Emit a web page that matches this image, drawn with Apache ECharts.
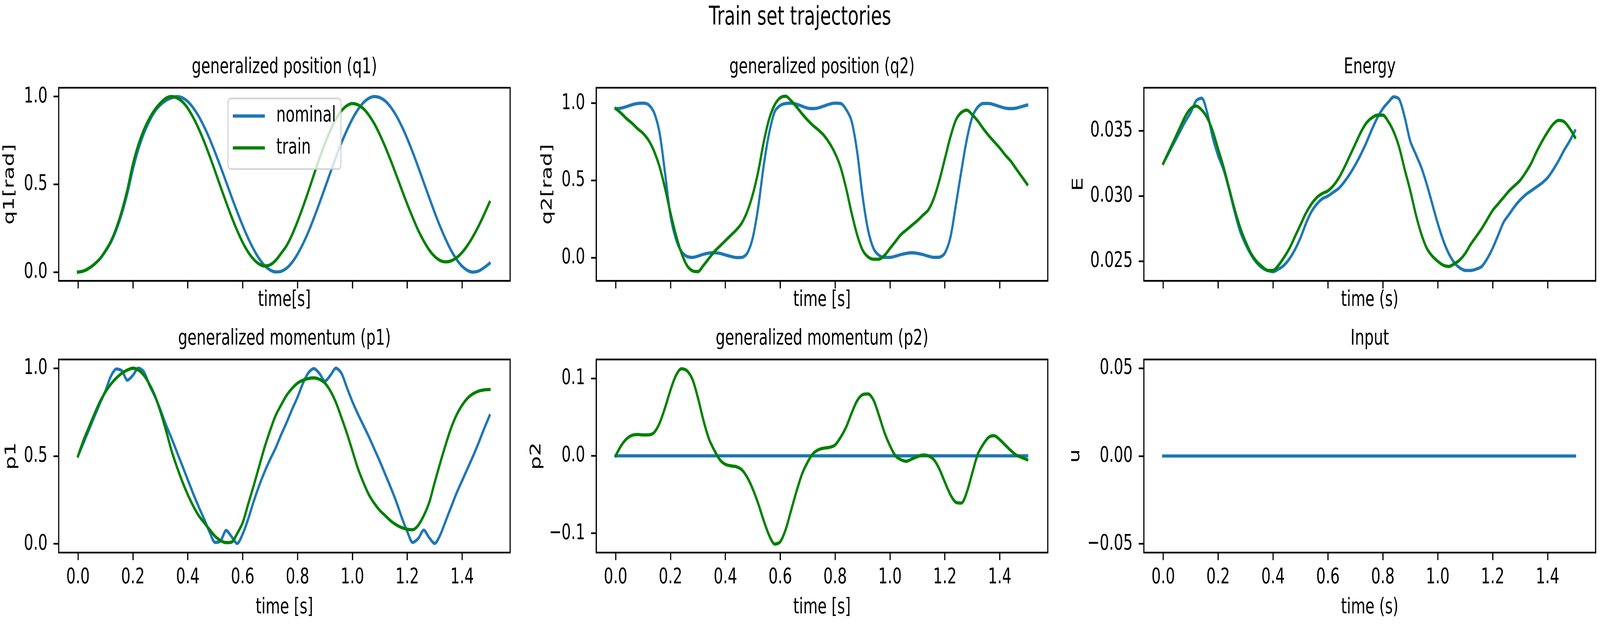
<!DOCTYPE html>
<html>
<head>
<meta charset="utf-8">
<script src="https://cdn.jsdelivr.net/npm/echarts@6/dist/echarts.min.js"></script>
<style>
html,body{margin:0;padding:0;background:#fff;overflow:hidden}
#c{width:6000px;height:1600px;transform-origin:0 0;position:absolute;left:0;top:0}
</style>
</head>
<body>
<div id="c"></div>
<script>
// ---------------- data ----------------
const time = [
  0.00,0.02,0.04,0.06,0.08,0.10,0.12,0.14,0.16,0.18,
  0.20,0.22,0.24,0.26,0.28,0.30,0.32,0.34,0.36,0.38,
  0.40,0.42,0.44,0.46,0.48,0.50,0.52,0.54,0.56,0.58,
  0.60,0.62,0.64,0.66,0.68,0.70,0.72,0.74,0.76,0.78,
  0.80,0.82,0.84,0.86,0.88,0.90,0.92,0.94,0.96,0.98,
  1.00,1.02,1.04,1.06,1.08,1.10,1.12,1.14,1.16,1.18,
  1.20,1.22,1.24,1.26,1.28,1.30,1.32,1.34,1.36,1.38,
  1.40,1.42,1.44,1.46,1.48,1.50
];
const q1Nominal = [
  0,0.006,0.022,0.045,0.075,0.118,0.17,0.243,0.335,0.45,
  0.585,0.70,0.79,0.86,0.915,0.952,0.977,0.992,1.0,0.993,
  0.971,0.935,0.887,0.827,0.758,0.680,0.598,0.513,0.427,0.344,
  0.265,0.193,0.130,0.077,0.037,0.012,0.001,0.004,0.022,0.055,
  0.102,0.161,0.230,0.309,0.393,0.480,0.568,0.654,0.735,0.808,
  0.872,0.925,0.965,0.990,1.0,0.994,0.974,0.939,0.891,0.830,
  0.760,0.682,0.598,0.511,0.424,0.339,0.259,0.187,0.123,0.072,
  0.033,0.009,0.000,0.006,0.025,0.05
];
const q1Train = [
  0,0.006,0.022,0.046,0.077,0.122,0.176,0.252,0.35,0.47,
  0.615,0.725,0.81,0.875,0.925,0.962,0.99,1.0,0.993,0.971,
  0.933,0.880,0.816,0.742,0.660,0.573,0.484,0.397,0.313,0.237,
  0.169,0.114,0.073,0.046,0.035,0.041,0.066,0.106,0.150,0.212,
  0.288,0.372,0.462,0.556,0.648,0.733,0.808,0.872,0.918,0.948,
  0.96,0.953,0.931,0.894,0.845,0.783,0.712,0.635,0.553,0.469,
  0.387,0.310,0.238,0.177,0.126,0.089,0.066,0.058,0.064,0.082,
  0.112,0.153,0.204,0.262,0.328,0.398
];
const q2Nominal = [
  0.965,0.968,0.978,0.99,0.998,1.0,0.99,0.94,0.81,0.55,
  0.27,0.12,0.04,0.008,0.002,0.01,0.022,0.03,0.032,0.028,
  0.018,0.008,0.001,0.002,0.03,0.13,0.33,0.60,0.81,0.946,
  0.985,0.998,1.0,0.993,0.98,0.968,0.965,0.97,0.982,0.994,
  1.0,0.998,0.96,0.885,0.69,0.40,0.18,0.06,0.015,0.002,
  0.002,0.01,0.02,0.028,0.032,0.028,0.02,0.01,0.002,0.003,
  0.03,0.13,0.34,0.56,0.765,0.91,0.975,0.998,0.998,0.99,
  0.978,0.968,0.965,0.968,0.978,0.988
];
const q2Train = [
  0.965,0.935,0.90,0.87,0.835,0.805,0.76,0.69,0.59,0.45,
  0.29,0.146,0.03,-0.05,-0.085,-0.09,-0.05,-0.005,0.04,0.075,
  0.11,0.145,0.18,0.225,0.30,0.41,0.56,0.75,0.90,0.99,
  1.035,1.045,1.015,0.975,0.93,0.89,0.855,0.825,0.79,0.74,
  0.675,0.585,0.45,0.29,0.15,0.05,0.005,-0.01,-0.01,0.015,
  0.06,0.105,0.15,0.18,0.21,0.24,0.275,0.31,0.385,0.50,
  0.64,0.78,0.89,0.94,0.955,0.925,0.885,0.835,0.79,0.75,
  0.71,0.665,0.625,0.575,0.525,0.475
];
const eNominal = [
  0.0325,0.0333,0.0341,0.0349,0.0357,0.0364,0.0373,0.0375,0.0364,0.0345,
  0.0331,0.0320,0.0305,0.0288,0.0273,0.0263,0.0255,0.0249,0.0245,0.0243,
  0.0242,0.0244,0.0247,0.0252,0.0259,0.0268,0.0279,0.0288,0.0294,0.0298,
  0.0300,0.0303,0.0306,0.0311,0.0317,0.0324,0.0332,0.0341,0.0351,0.0360,
  0.0367,0.0372,0.0376,0.0374,0.0360,0.0342,0.0332,0.0322,0.0309,0.0294,
  0.0279,0.0266,0.0256,0.0249,0.0245,0.0243,0.0243,0.0244,0.0246,0.0252,
  0.0260,0.0270,0.0280,0.0286,0.0292,0.0297,0.0301,0.0304,0.0307,0.0310,
  0.0314,0.0320,0.0327,0.0335,0.0342,0.0350
];
const eTrain = [
  0.0325,0.0334,0.0343,0.0352,0.0361,0.0367,0.0369,0.0366,0.0360,0.0350,
  0.0336,0.0322,0.0306,0.0290,0.0276,0.0265,0.0256,0.0250,0.0246,0.0243,
  0.0243,0.0247,0.0253,0.0260,0.0269,0.0278,0.0287,0.0294,0.0299,0.0302,
  0.0304,0.0308,0.0314,0.0322,0.0331,0.0340,0.0349,0.0356,0.0360,0.0362,
  0.0362,0.0357,0.0349,0.0337,0.0320,0.0304,0.0286,0.0271,0.0260,0.0254,
  0.0250,0.0247,0.0246,0.0248,0.0251,0.0256,0.0263,0.0269,0.0275,0.0282,
  0.0289,0.0294,0.0299,0.0304,0.0308,0.0312,0.0318,0.0325,0.0334,0.0342,
  0.0349,0.0355,0.0358,0.0357,0.0352,0.0345
];
const p1Nominal = [
  0.50,0.575,0.65,0.726,0.80,0.872,0.955,0.996,0.985,0.932,
  0.96,1.0,0.98,0.905,0.84,0.765,0.68,0.605,0.525,0.445,
  0.365,0.285,0.21,0.14,0.065,0.008,0.018,0.076,0.04,0.002,
  0.055,0.14,0.24,0.33,0.41,0.48,0.545,0.62,0.69,0.765,
  0.835,0.915,0.975,0.998,0.97,0.927,0.96,1.0,0.972,0.89,
  0.81,0.74,0.675,0.61,0.54,0.47,0.395,0.32,0.24,0.15,
  0.07,0.008,0.03,0.078,0.035,0.002,0.05,0.13,0.21,0.29,
  0.36,0.43,0.50,0.575,0.655,0.73
];
const p1Train = [
  0.50,0.59,0.665,0.74,0.81,0.865,0.91,0.945,0.972,0.99,
  1.0,0.99,0.96,0.91,0.845,0.755,0.65,0.535,0.44,0.355,
  0.28,0.215,0.16,0.12,0.08,0.042,0.018,0.007,0.01,0.058,
  0.12,0.225,0.33,0.44,0.55,0.645,0.73,0.79,0.845,0.885,
  0.915,0.932,0.942,0.945,0.937,0.915,0.87,0.805,0.72,0.63,
  0.53,0.43,0.35,0.28,0.23,0.19,0.16,0.13,0.108,0.092,
  0.083,0.08,0.105,0.16,0.235,0.35,0.46,0.565,0.66,0.735,
  0.79,0.83,0.855,0.87,0.877,0.879
];
const p2Nominal = [
  0,0,0,0,0,0,0,0,0,0,
  0,0,0,0,0,0,0,0,0,0,
  0,0,0,0,0,0,0,0,0,0,
  0,0,0,0,0,0,0,0,0,0,
  0,0,0,0,0,0,0,0,0,0,
  0,0,0,0,0,0,0,0,0,0,
  0,0,0,0,0,0,0,0,0,0,
  0,0,0,0,0,0
];
const p2Train = [
  0,0.013,0.022,0.0265,0.0275,0.027,0.027,0.030,0.042,0.062,
  0.085,0.104,0.1125,0.110,0.099,0.075,0.046,0.022,0.007,-0.005,
  -0.011,-0.013,-0.014,-0.018,-0.028,-0.043,-0.062,-0.084,-0.103,-0.114,
  -0.111,-0.095,-0.070,-0.045,-0.023,-0.008,0.003,0.008,0.010,0.011,
  0.014,0.024,0.037,0.055,0.071,0.079,0.080,0.072,0.052,0.030,
  0.013,0.000,-0.005,-0.007,-0.004,-0.001,0.001,0.000,-0.005,-0.017,
  -0.034,-0.050,-0.060,-0.061,-0.047,-0.022,0.002,0.015,0.024,0.026,
  0.021,0.014,0.007,0.001,-0.002,-0.005
];
const uNominal = [
  0,0,0,0,0,0,0,0,0,0,
  0,0,0,0,0,0,0,0,0,0,
  0,0,0,0,0,0,0,0,0,0,
  0,0,0,0,0,0,0,0,0,0,
  0,0,0,0,0,0,0,0,0,0,
  0,0,0,0,0,0,0,0,0,0,
  0,0,0,0,0,0,0,0,0,0,
  0,0,0,0,0,0
];
const xTicks = [0, 0.2, 0.4, 0.6, 0.8, 1.0, 1.2, 1.4];
const q1Ticks = [0, 0.5, 1.0];
const q2Ticks = [0, 0.5, 1.0];
const eTicks = [0.025, 0.030, 0.035];
const p1Ticks = [0, 0.5, 1.0];
const p2Ticks = [-0.1, 0, 0.1];
const uTicks = [-0.05, 0, 0.05];
const seriesNames = ['nominal', 'train'];

// ---------------- layout / style ----------------
const FONT = 'DejaVu Sans';
const FS = 55.6;
const BLUE = '#1f77b4', GREEN = '#008000';
const LW = 8.3, SPINE = 4.4;
const COLS = [{left: 220, width: 1693}, {left: 2236, width: 1693}, {left: 4289.5, width: 1694}];
const ROWS = [{top: 224.6, height: 494.4}, {top: 920.3, height: 494.3}];

const panels = [
  {r:0,c:0,title:'generalized position (q1)',xName:'time[s]', yName:'q1[rad]',yMin:-0.05,yMax:1.05,ticks:q1Ticks,dec:1,yGap:155,nom:q1Nominal,tr:q1Train},
  {r:0,c:1,title:'generalized position (q2)',xName:'time [s]',yName:'q2[rad]',yMin:-0.15,yMax:1.10,ticks:q2Ticks,dec:1,yGap:154,nom:q2Nominal,tr:q2Train},
  {r:0,c:2,title:'Energy',                   xName:'time (s)',yName:'E',      yMin:0.0235,yMax:0.0383,ticks:eTicks,dec:3,yGap:217,nom:eNominal,tr:eTrain},
  {r:1,c:0,title:'generalized momentum (p1)',xName:'time [s]',yName:'p1',     yMin:-0.05,yMax:1.05,ticks:p1Ticks,dec:1,yGap:149,nom:p1Nominal,tr:p1Train},
  {r:1,c:1,title:'generalized momentum (p2)',xName:'time [s]',yName:'p2',     yMin:-0.125,yMax:0.1245,ticks:p2Ticks,dec:1,yGap:196,nom:p2Nominal,tr:p2Train},
  {r:1,c:2,title:'Input',                    xName:'time (s)',yName:'u',      yMin:-0.055,yMax:0.055,ticks:uTicks,dec:2,yGap:229,nom:uNominal,tr:null}
];

function fmt(dec) {
  return function (v) {
    const s = Math.abs(v).toFixed(dec);
    return (v < -1e-12 ? '\u2212' : '') + s;
  };
}
function pairs(arr) { return time.map((t, i) => [t, arr[i]]); }

const grid = [], xAxis = [], yAxis = [], series = [], graphic = [];
const textStyleBase = {fontFamily: FONT, fontSize: FS, color: '#000'};

panels.forEach((p, i) => {
  const col = COLS[p.c], row = ROWS[p.r];
  grid.push({left: col.left, top: row.top, width: col.width, height: row.height,
    show: true, borderColor: '#000', borderWidth: SPINE, backgroundColor: 'transparent', containLabel: false});
  const bottomRow = p.r === 1;
  xAxis.push({
    type: 'value', gridIndex: i, min: -0.0705, max: 1.575, position: 'bottom',
    name: p.xName, nameLocation: 'middle', nameGap: bottomRow ? 113 : 22,
    nameTextStyle: Object.assign({}, textStyleBase, {verticalAlign: 'top'}),
    axisLine: {show: false, onZero: false},
    axisTick: {show: true, inside: false, customValues: xTicks, length: 19.4, lineStyle: {color: '#000', width: SPINE}},
    axisLabel: {show: bottomRow, customValues: xTicks, formatter: fmt(1), margin: 36,
      fontFamily: FONT, fontSize: FS, color: '#000'},
    splitLine: {show: false}
  });
  yAxis.push({
    type: 'value', gridIndex: i, min: p.yMin, max: p.yMax, position: 'left',
    name: p.yName, nameLocation: 'middle', nameGap: p.yGap, nameRotate: 90,
    nameTextStyle: Object.assign({}, textStyleBase),
    axisLine: {show: false, onZero: false},
    axisTick: {show: true, inside: false, customValues: p.ticks, length: 19.4, lineStyle: {color: '#000', width: SPINE}},
    axisLabel: {show: true, customValues: p.ticks, formatter: fmt(p.dec), margin: 42,
      fontFamily: FONT, fontSize: FS, color: '#000'},
    splitLine: {show: false}
  });
  series.push({
    name: seriesNames[0], type: 'line', xAxisIndex: i, yAxisIndex: i,
    data: pairs(p.nom), showSymbol: false, symbol: 'none', smooth: 0.3,
    lineStyle: {color: BLUE, width: LW, cap: 'square'}, itemStyle: {color: BLUE}, z: 2
  });
  if (p.tr) {
    series.push({
      name: seriesNames[1], type: 'line', xAxisIndex: i, yAxisIndex: i,
      data: pairs(p.tr), showSymbol: false, symbol: 'none', smooth: 0.3,
      lineStyle: {color: GREEN, width: LW, cap: 'square'}, itemStyle: {color: GREEN}, z: 3
    });
  }
  graphic.push({
    type: 'text', x: col.left + col.width / 2, y: row.top - 52.5,
    style: {text: p.title, font: FS + 'px "' + FONT + '"', fill: '#000',
      align: 'center', verticalAlign: 'middle', textAlign: 'center', textVerticalAlign: 'middle'}
  });
});

graphic.push({
  type: 'text', x: 3000, y: 46,
  style: {text: 'Train set trajectories', font: '66.7px "' + FONT + '"', fill: '#000',
    align: 'center', verticalAlign: 'middle', textAlign: 'center', textVerticalAlign: 'middle'}
});

const option = {
  backgroundColor: '#ffffff',
  animation: false,
  grid, xAxis, yAxis, series, graphic,
  legend: {
    show: true, data: seriesNames, orient: 'vertical', left: 855, top: 252,
    icon: 'rect', itemWidth: 120, itemHeight: 8.3, itemGap: 25.7,
    padding: [17, 19, 26, 18],
    backgroundColor: 'rgba(255,255,255,0.8)', borderColor: 'rgba(204,204,204,0.8)',
    borderWidth: SPINE, borderRadius: 11, selectedMode: false,
    textStyle: {fontFamily: FONT, fontSize: FS, color: '#000', padding: [0, 0, 0, 38]}
  }
};

// The chart is laid out on a 6000x1600 canvas; if the browser viewport is
// smaller, the whole canvas is fitted into it.
const box = document.getElementById('c');
const sx = Math.min(1, (window.innerWidth || 6000) / 6000);
const sy = Math.min(1, (window.innerHeight || 1600) / 1600);
box.style.transform = 'scale(' + sx + ',' + sy + ')';

const chart = echarts.init(box, null, {renderer: 'canvas', width: 6000, height: 1600});
chart.setOption(option);
</script>
</body>
</html>
